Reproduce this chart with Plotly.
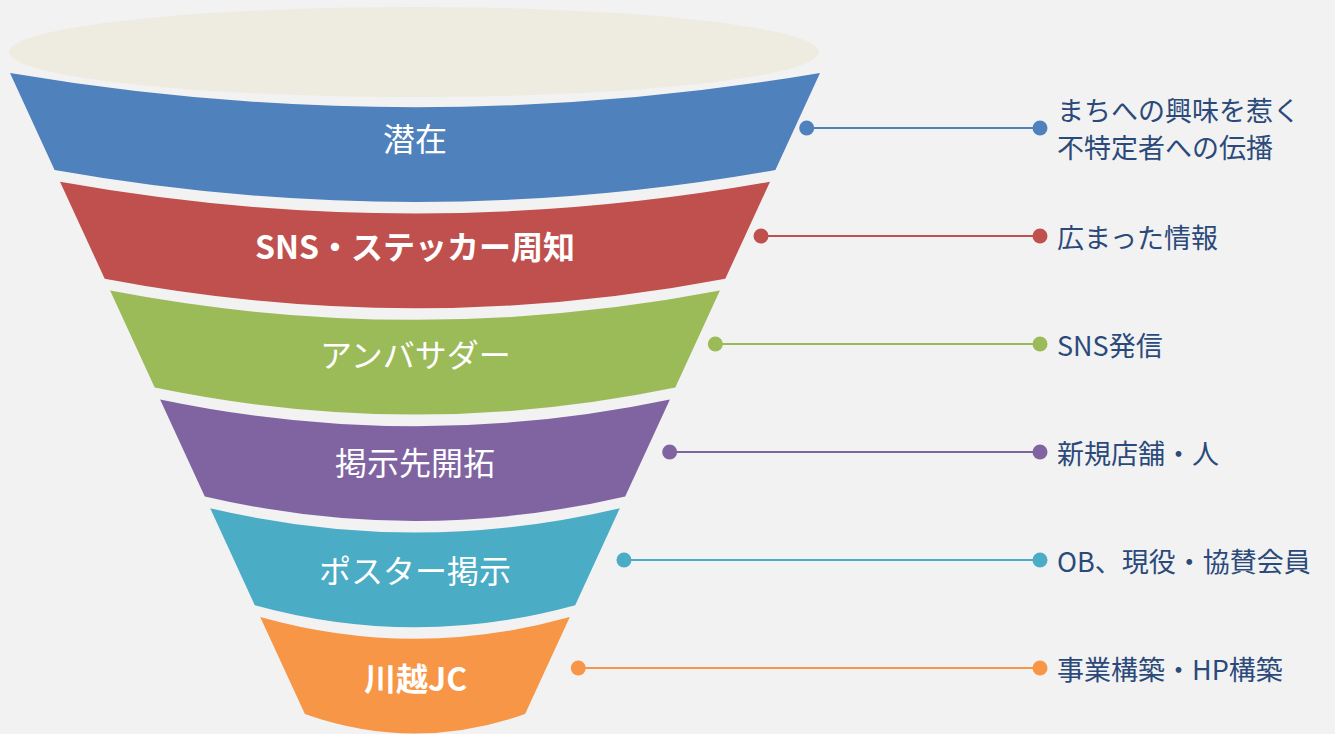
import plotly.graph_objects as go

# ---- data ----
stages = ["潜在", "SNS・ステッカー周知", "アンバサダー", "掲示先開拓", "ポスター掲示", "川越JC"]
descriptions = ["まちへの興味を惹く\n不特定者への伝播", "広まった情報", "SNS発信",
                "新規店舗・人", "OB、現役・協賛会員", "事業構築・HP構築"]

# ---- styles ----
colors = ["#4f81bd", "#c0504d", "#9bbb59", "#8064a2", "#4bacc6", "#f79646"]
label_bold = [False, True, False, False, False, True]
BG = "#f2f2f2"
RIM = "#eeece1"
TEXT_COL = "#2b4a7a"
FONT = "Noto Sans CJK JP"
DESC_SIZE = 27
DESC_LINE_GAP = 37

W, H = 1335, 734
TOP = 73.0        # top corner of first band
PITCH = 108.8     # vertical step between bands
BAND_H = 97.0     # corner height of a band
XL0, XR0 = 10.0, 820.0
SLOPE = 0.46
CX = (XL0 + XR0) / 2
LINE_END_X = 1040
TEXT_X = 1055


def left(y):
    return XL0 + SLOPE * (y - TOP)


def right(y):
    return XR0 - SLOPE * (y - TOP)


def sag(y):
    hw = (right(y) - left(y)) / 2
    return 14 + 0.05 * hw


fig = go.Figure()
shapes = []
# funnel mouth (ellipse)
shapes.append(dict(type="circle", xref="x", yref="y", x0=9, x1=819, y0=7, y1=97,
                   fillcolor=RIM, line=dict(width=0), layer="below"))

annotations = []
for i, (stage, desc, col) in enumerate(zip(stages, descriptions, colors)):
    yt = TOP + PITCH * i
    yb = yt + BAND_H
    st, sb = sag(yt), sag(yb)
    path = (f"M {left(yt):.1f},{yt:.1f} Q {CX:.1f},{yt + 2 * st:.1f} {right(yt):.1f},{yt:.1f} "
            f"L {right(yb):.1f},{yb:.1f} Q {CX:.1f},{yb + 2 * sb:.1f} {left(yb):.1f},{yb:.1f} Z")
    shapes.append(dict(type="path", path=path, xref="x", yref="y",
                       fillcolor=col, line=dict(width=0), layer="below"))

    label = f"<b>{stage}</b>" if label_bold[i] else stage
    annotations.append(dict(x=CX, y=yt + 64 - 0.8 * i, xref="x", yref="y", text=label,
                            showarrow=False, xanchor="center", yanchor="middle",
                            font=dict(family=FONT, size=32, color="white")))

    yc = yt + 55 - 0.8 * i
    x_start = right(yc) + 12 + 4 * i
    fig.add_trace(go.Scatter(x=[x_start, LINE_END_X], y=[yc, yc], mode="lines+markers",
                             line=dict(color=col, width=2),
                             marker=dict(color=col, size=15),
                             hoverinfo="skip", showlegend=False))
    lines = desc.split("\n")
    n = len(lines)
    for k, txt in enumerate(lines):
        ly = yc + (k - (n - 1) / 2) * DESC_LINE_GAP
        annotations.append(dict(x=TEXT_X, y=ly, xref="x", yref="y", text=txt,
                                showarrow=False, xanchor="left", yanchor="middle", align="left",
                                font=dict(family=FONT, size=DESC_SIZE, color=TEXT_COL)))

fig.update_layout(
    width=W, height=H,
    margin=dict(l=0, r=0, t=0, b=0),
    paper_bgcolor=BG, plot_bgcolor=BG,
    shapes=shapes, annotations=annotations,
    xaxis=dict(range=[0, W], visible=False, fixedrange=True),
    yaxis=dict(range=[H, 0], visible=False, fixedrange=True),
    showlegend=False,
)

fig.write_html("out.html")
